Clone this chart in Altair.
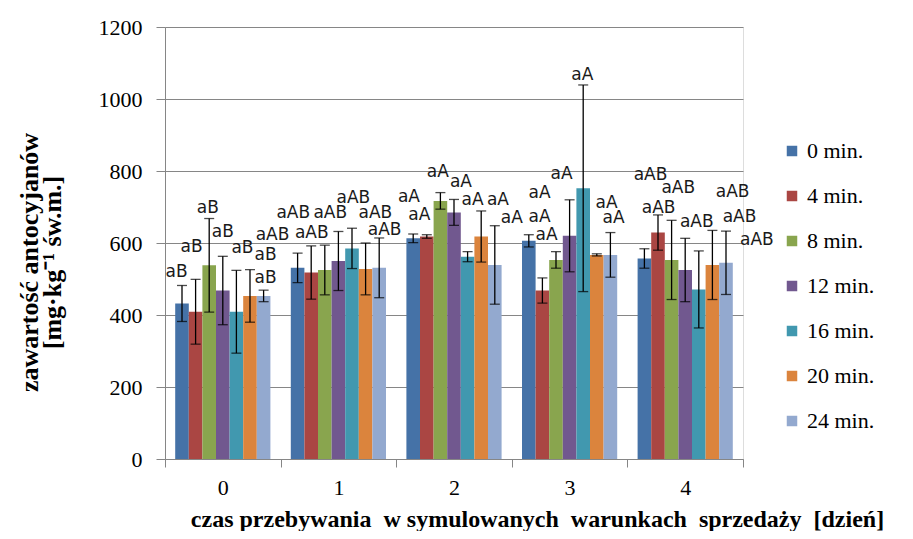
import altair as alt
import pandas as pd

# ---- data ----
days = ["0", "1", "2", "3", "4"]
series = ["0 min.", "4 min.", "8 min.", "12 min.", "16 min.", "20 min.", "24 min."]
colors = ["#4572A7", "#AA4643", "#89A54E", "#71588F", "#4198AF", "#DB843D", "#93A9CF"]

mean_0 = [432, 531, 613, 606, 557]
mean_4 = [409, 518, 618, 468, 629]
mean_8 = [538, 525, 717, 553, 553]
mean_12 = [468, 550, 685, 620, 525]
mean_16 = [409, 585, 562, 752, 471]
mean_20 = [453, 528, 618, 567, 539]
mean_24 = [453, 531, 539, 567, 545]

sd_0 = [50, 41, 12, 17, 27]
sd_4 = [90, 74, 5, 35, 49]
sd_8 = [130, 69, 23, 23, 110]
sd_12 = [95, 82, 36, 100, 88]
sd_16 = [115, 56, 14, 287, 107]
sd_20 = [73, 72, 71, 3, 96]
sd_24 = [16, 83, 109, 62, 88]

# significance letters (same for every bar of a day)
letters = ["aB", "aAB", "aA", "aA", "aAB"]
# where each letter label sits: height in mg/kg units, horizontal place in day units
lab_y_0 = [520, 622, 729, 738, 789]
lab_y_4 = [590, 682, 678, 673, 696]
lab_y_8 = [696, 627, 798, 622, 752]
lab_y_12 = [631, 682, 770, 792, 659]
lab_y_16 = [585, 724, 719, 1067, 742]
lab_y_20 = [567, 682, 719, 711, 673]
lab_y_24 = [502, 636, 669, 669, 608]

lab_x_0 = [-0.40, 0.43, 1.61, 2.74, 3.70]
lab_x_4 = [-0.27, 0.61, 1.70, 2.74, 3.77]
lab_x_8 = [-0.13, 0.77, 1.86, 2.80, 3.94]
lab_x_12 = [0.00, 0.93, 2.06, 2.93, 4.10]
lab_x_16 = [0.17, 1.13, 2.16, 3.11, 4.41]
lab_x_20 = [0.37, 1.32, 2.38, 3.32, 4.47]
lab_x_24 = [0.37, 1.40, 2.50, 3.38, 4.62]

means = [mean_0, mean_4, mean_8, mean_12, mean_16, mean_20, mean_24]
sds = [sd_0, sd_4, sd_8, sd_12, sd_16, sd_20, sd_24]
labys = [lab_y_0, lab_y_4, lab_y_8, lab_y_12, lab_y_16, lab_y_20, lab_y_24]
labxs = [lab_x_0, lab_x_4, lab_x_8, lab_x_12, lab_x_16, lab_x_20, lab_x_24]

rows = []
for si, s in enumerate(series):
    for di, d in enumerate(days):
        m = means[si][di]
        e = sds[si][di]
        rows.append({
            "day": d, "series": s, "value": m,
            "lo": m - e, "hi": m + e,
            "lab": letters[di], "laby": labys[si][di], "labx": labxs[si][di],
        })
df = pd.DataFrame(rows)

serif = "Liberation Serif"
grey = "#868686"

x_enc = alt.X(
    "day:N", sort=days,
    scale=alt.Scale(paddingInner=0, paddingOuter=0),
    axis=alt.Axis(
        title="czas przebywania\u00a0 w symulowanych\u00a0 warunkach\u00a0 sprzedaży\u00a0 [dzień]",
        titleFont=serif, titleFontSize=24, titleFontWeight="bold", titleColor="black",
        titleX=372, titleY=67, titleBaseline="alphabetic", titleAnchor="middle",
        labelFont=serif, labelFontSize=22, labelColor="black", labelAngle=0,
        labelPadding=10, tickBand="extent", tickSize=8, tickColor=grey,
        domainColor=grey, grid=False,
    ),
)
xo_enc = alt.XOffset("series:N", sort=series,
                     scale=alt.Scale(paddingOuter=0.75, paddingInner=0))
y_scale = alt.Scale(domain=[0, 1200], nice=False)

bars = alt.Chart(df).mark_bar().encode(
    x=x_enc,
    xOffset=xo_enc,
    y=alt.Y(
        "value:Q", scale=y_scale,
        axis=alt.Axis(
            values=[0, 200, 400, 600, 800, 1000, 1200], format="d",
            title=["zawartość antocyjanów", "[mg·kg⁻¹ św.m.]"],
            titleFont=serif, titleFontSize=26, titleFontWeight="bold", titleColor="black",
            titleX=-123, titleY=235, titleAlign="center", titleLineHeight=23,
            labelFont=serif, labelFontSize=22, labelColor="black", labelPadding=14,
            tickSize=9, tickColor=grey, domainColor=grey, gridColor=grey,
        ),
    ),
    color=alt.Color(
        "series:N", sort=series,
        scale=alt.Scale(domain=series, range=colors),
        legend=alt.Legend(
            title=None, orient="none", legendX=616, legendY=113,
            symbolType="square", symbolSize=110, symbolStrokeWidth=0,
            labelFont=serif, labelFontSize=22, labelColor="black",
            labelOffset=4, rowPadding=23,
        ),
    ),
)

err = alt.Chart(df).mark_rule(color="black", strokeWidth=1.3).encode(
    x=alt.X("day:N", sort=days), xOffset=xo_enc,
    y=alt.Y("lo:Q", scale=y_scale), y2="hi:Q",
)
cap_lo = alt.Chart(df).mark_tick(color="black", size=10, thickness=1.3).encode(
    x=alt.X("day:N", sort=days), xOffset=xo_enc,
    y=alt.Y("lo:Q", scale=y_scale),
)
cap_hi = alt.Chart(df).mark_tick(color="black", size=10, thickness=1.3).encode(
    x=alt.X("day:N", sort=days), xOffset=xo_enc,
    y=alt.Y("hi:Q", scale=y_scale),
)
groups = alt.layer(bars, err, cap_lo, cap_hi)

labels = alt.Chart(df).mark_text(
    font="DejaVu Sans", fontSize=17, baseline="middle", color="#1a1a1a"
).encode(
    x=alt.X("labx:Q", scale=alt.Scale(domain=[-0.5, 4.5], nice=False, zero=False), axis=None),
    y=alt.Y("laby:Q", scale=y_scale),
    text="lab:N",
)

chart = alt.layer(groups, labels).resolve_scale(x="independent").properties(
    width=578, height=432,
    autosize=alt.AutoSizeParams(type="none"),
    padding={"left": 157, "top": 19, "right": 160, "bottom": 72},
).configure_view(stroke=None).configure(background="white")

chart.save("out.html", embed_options={"renderer": "svg", "actions": False})
